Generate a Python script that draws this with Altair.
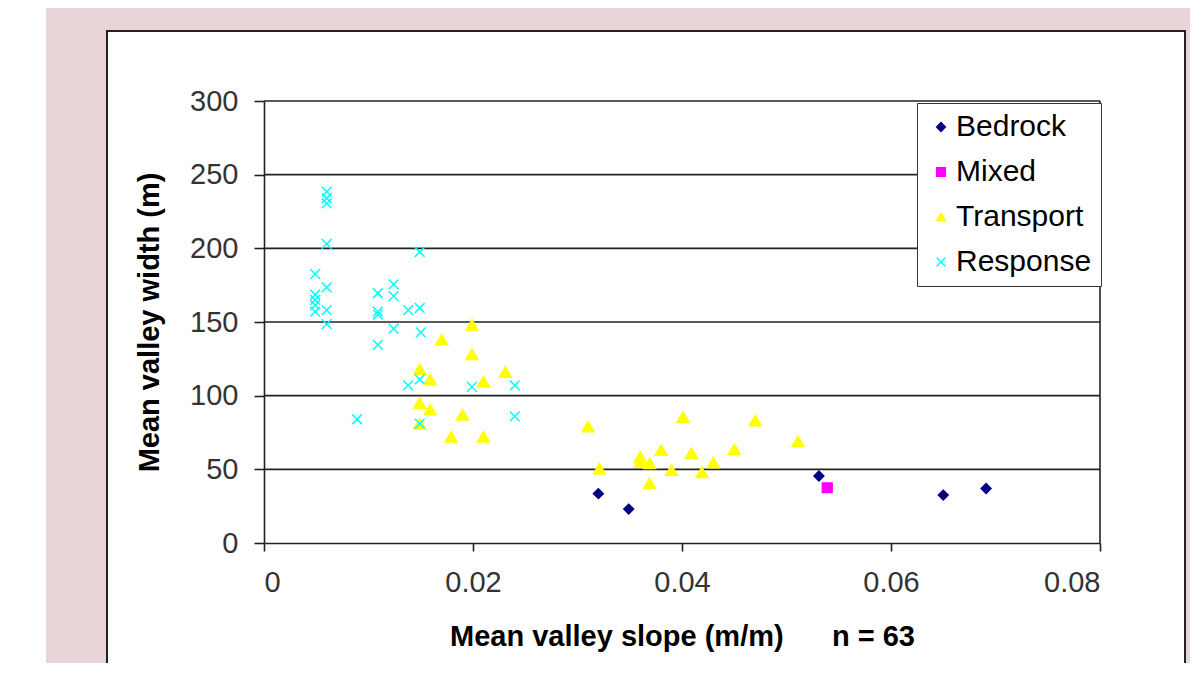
import altair as alt
import pandas as pd

# ---- data ----
bedrock_x = [0.0320, 0.0349, 0.0531, 0.0650, 0.0691]
bedrock_y = [33.5, 23.0, 45.5, 32.5, 37.0]

mixed_x = [0.0539]
mixed_y = [37.5]

transport_x = [0.0199, 0.0170, 0.0199, 0.0149, 0.0159, 0.0210, 0.0231, 0.0149, 0.0159,
               0.0190, 0.0149, 0.0179, 0.0210, 0.0310, 0.0401, 0.0470, 0.0511, 0.0321,
               0.0360, 0.0360, 0.0369, 0.0380, 0.0409, 0.0369, 0.0390, 0.0419, 0.0430, 0.0450]
transport_y = [148.0, 138.0, 128.0, 118.0, 111.0, 109.5, 116.0, 95.0, 90.5,
               87.0, 81.0, 72.0, 72.0, 79.0, 85.5, 83.0, 69.0, 50.5,
               58.5, 55.0, 54.0, 63.0, 61.0, 40.5, 49.5, 48.0, 54.5, 63.5]

response_x = [0.0060, 0.0060, 0.0060, 0.0060, 0.0149, 0.0049, 0.0060, 0.0124, 0.0109, 0.0124,
              0.0049, 0.0049, 0.0049, 0.0049, 0.0060, 0.0060, 0.0109, 0.0109, 0.0138, 0.0149,
              0.0124, 0.0150, 0.0109, 0.0138, 0.0149, 0.0199, 0.0240, 0.0089, 0.0149, 0.0240]
response_y = [238.5, 234.0, 230.5, 203.0, 197.5, 182.5, 173.5, 175.5, 169.5, 167.5,
              168.5, 165.0, 161.5, 157.0, 158.0, 148.5, 157.0, 155.0, 158.0, 159.5,
              145.5, 143.0, 134.5, 107.0, 111.0, 106.0, 107.0, 84.0, 81.0, 86.0]

categories = ["Bedrock", "Mixed", "Transport", "Response"]
colors = ["#000080", "#FF00FF", "#FFFF00", "#00FFFF"]
shapes = ["diamond", "square", "triangle-up", "M-1,-1L1,1M-1,1L1,-1"]

x_ticks = [0, 0.02, 0.04, 0.06, 0.08]
y_ticks = [0, 50, 100, 150, 200, 250, 300]
grid_values = [50, 100, 150, 200, 250, 300]

x_title = "Mean valley slope (m/m)\u00a0\u00a0\u00a0\u00a0\u00a0\u00a0n = 63"
y_title = "Mean valley width (m)"

# ---- build tables ----
rows = []
for name, xs, ys in [("Bedrock", bedrock_x, bedrock_y), ("Mixed", mixed_x, mixed_y),
                     ("Transport", transport_x, transport_y), ("Response", response_x, response_y)]:
    for a, b in zip(xs, ys):
        rows.append({"slope": a, "width": b, "type": name})
df = pd.DataFrame(rows)
df_small = df[df["type"] != "Transport"]
df_tri = df[df["type"] == "Transport"]
grid_df = pd.DataFrame({"width": grid_values})
one = pd.DataFrame({"k": [0]})

FONT = "Liberation Sans"
W, H = 836, 442
PINK = "#E9D4D8"
DARK = "#222222"

xscale = alt.Scale(domain=[0, 0.08], nice=False)
yscale = alt.Scale(domain=[0, 300], nice=False)
xaxis = alt.Axis(values=x_ticks, format=".2~f", title=x_title, grid=False,
                 tickSize=8, labelPadding=17, titlePadding=25, zindex=1)
yaxis = alt.Axis(values=y_ticks, title=y_title, grid=False,
                 tickSize=10, labelPadding=16, titlePadding=25, zindex=1)

bg = alt.Chart(one).mark_rect(fill=PINK).encode(
    x=alt.value(-218), x2=alt.value(940), y=alt.value(-93), y2=alt.value(600))

box = alt.Chart(one).mark_rect(fill="white", stroke=DARK, strokeWidth=2).encode(
    x=alt.value(-157), x2=alt.value(921), y=alt.value(-70), y2=alt.value(640))

grid = alt.Chart(grid_df).mark_rule(color=DARK, strokeWidth=1.6).encode(
    y=alt.Y("width:Q", scale=yscale, axis=yaxis), x=alt.value(0), x2=alt.value(W))

border = alt.Chart(one).mark_rule(color=DARK, strokeWidth=1.6).encode(
    x=alt.value(W), y=alt.value(0), y2=alt.value(H))

legend = alt.Legend(title=None, orient="none", legendX=653, legendY=2,
                    fillColor="white", strokeColor="#333", padding=9,
                    labelFontSize=30, labelFont=FONT, labelColor="black",
                    rowPadding=15, symbolSize=75, labelOffset=0,
                    symbolStrokeWidth=1.5, zindex=2)


def point_layer(data, size):
    return alt.Chart(data).mark_point(filled=True, opacity=1, strokeWidth=1.5, size=size).encode(
        x=alt.X("slope:Q", scale=xscale, axis=xaxis),
        y=alt.Y("width:Q", scale=yscale, axis=yaxis),
        fill=alt.Fill("type:N", scale=alt.Scale(domain=categories, range=colors), legend=legend),
        stroke=alt.Stroke("type:N", scale=alt.Scale(domain=categories, range=colors), legend=legend),
        shape=alt.Shape("type:N", scale=alt.Scale(domain=categories, range=shapes), legend=legend),
    )


chart = alt.layer(bg, box, grid, border, point_layer(df_tri, 140), point_layer(df_small, 95)).properties(
    width=W, height=H,
    padding={"left": 256, "top": 93, "right": 90, "bottom": 120},
    autosize=alt.AutoSizeParams(type="none"),
    background="white",
).configure_view(stroke=None).configure_axis(
    labelFont=FONT, labelFontSize=29, labelColor="#333",
    titleFont=FONT, titleFontSize=29, titleFontWeight="bold", titleColor="black",
    domainColor=DARK, domainWidth=1.6, tickColor=DARK, tickWidth=1.6,
)

chart.save("out.html", embed_options={"renderer": "svg", "actions": False})
